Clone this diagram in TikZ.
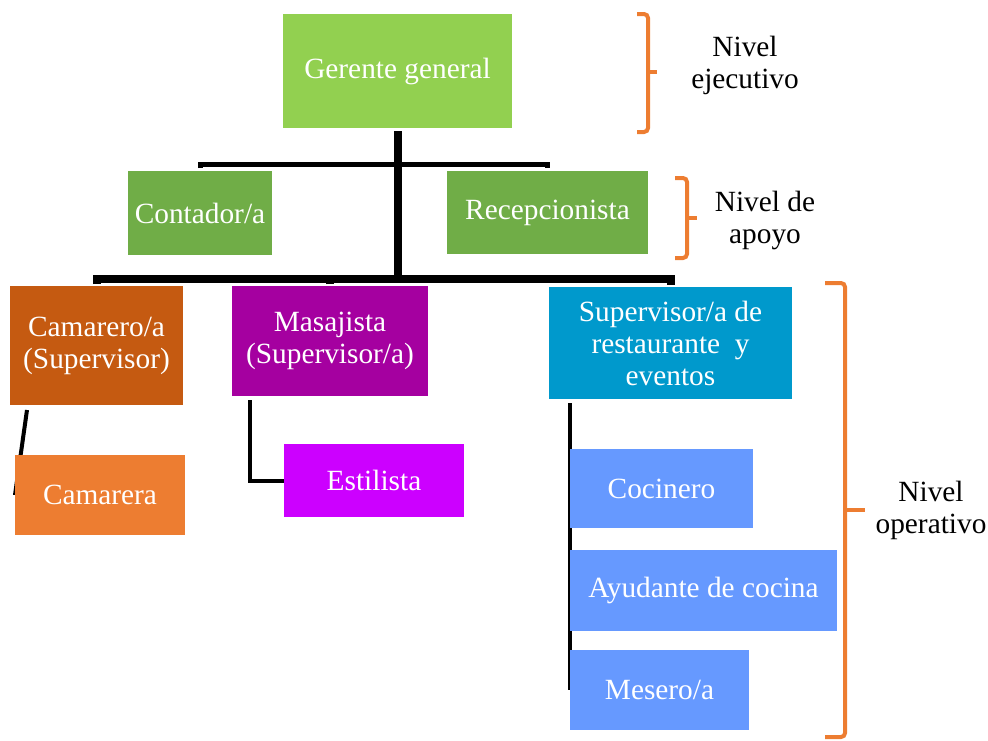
\documentclass[tikz,border=0pt]{standalone}
\usepackage{fontspec}
\setmainfont{Liberation Serif}
\usepackage{tikz}
\usetikzlibrary{backgrounds}
\definecolor{gerentegreen}{HTML}{92D050}
\definecolor{apoyogreen}{HTML}{70AD47}
\definecolor{camareroorange}{HTML}{C55A11}
\definecolor{camareraorange}{HTML}{ED7D31}
\definecolor{masajistapurple}{HTML}{A500A0}
\definecolor{estilistapink}{HTML}{CC00FF}
\definecolor{supervblue}{HTML}{0099CC}
\definecolor{cocinablue}{HTML}{6699FF}
\definecolor{braceorange}{HTML}{ED7D31}

\begin{document}
\begin{tikzpicture}[x=0.75pt,y=-0.75pt,
  box/.style={rectangle,inner sep=2pt,outer sep=0pt,align=center,text=white,font=\fontsize{22}{24}\selectfont},
  lbl/.style={align=center,font=\fontsize{22}{24}\selectfont},
  bus/.style={line width=3.75pt},
  trunk/.style={line width=6pt},
  link/.style={line width=3pt},
  brace/.style={draw=braceorange,line width=3pt,rounded corners=3pt}]
\useasboundingbox (0,0) rectangle (988,740);
\node[box,fill=gerentegreen,minimum width=171.75pt,minimum height=85.5pt] (gerente) at (397.5,71) {Gerente general};
\node[box,fill=apoyogreen,minimum width=108pt,minimum height=63pt] (contador) at (200,213) {Contador/a};
\node[box,fill=apoyogreen,minimum width=150.75pt,minimum height=62.25pt] (recep) at (547.5,212.5) {Recepcionista};
\node[box,fill=camareroorange,minimum width=129.75pt,minimum height=89.25pt] (camarero) at (96.5,345.5) {Camarero/a\\(Supervisor)};
\node[box,fill=masajistapurple,minimum width=147pt,minimum height=82.5pt] (masajista) at (330,341) {Masajista\\(Supervisor/a)};
\node[box,fill=supervblue,minimum width=182.25pt,minimum height=84pt] (superv) at (670.5,343) {Supervisor/a de\\restaurante \ y\\eventos};
\node[box,fill=camareraorange,minimum width=127.5pt,minimum height=60pt] (camarera) at (100,495) {Camarera};
\node[box,fill=estilistapink,minimum width=135pt,minimum height=54.75pt] (estilista) at (374,480.5) {Estilista};
\node[box,fill=cocinablue,minimum width=137.25pt,minimum height=59.25pt] (cocinero) at (661.5,488.5) {Cocinero};
\node[box,fill=cocinablue,minimum width=200.25pt,minimum height=60.75pt] (ayudante) at (703.5,590.5) {Ayudante de cocina};
\node[box,fill=cocinablue,minimum width=134.25pt,minimum height=60pt] (mesero) at (659.5,690) {Mesero/a};
\coordinate (busA) at (397,164);
\coordinate (busB) at (397,279);
\coordinate (servtop) at ([shift={(21,4)}]superv.south west);
\begin{pgfonlayer}{background}
\draw[trunk] ([shift={(0,3)}]gerente.south) -- (gerente.south |- busB);
\draw[bus] ([shift={(0,-3)}]contador.north) |- (busA) -| ([shift={(0,-3)}]recep.north);
\draw[trunk] ([shift={(0,-2)}]camarero.north) |- (busB) -| ([shift={(0,-2)}]superv.north);
\draw[trunk] ([shift={(0,-2)}]masajista.north) -- (masajista.north |- busB);
\draw[link] ([shift={(17,5)}]camarero.south west) -- (camarera.west);
\draw[link] ([shift={(18,4)}]masajista.south west) |- (estilista.west);
\draw[link] (servtop) -- (servtop |- mesero.west);
\end{pgfonlayer}
\draw[brace] (637,14) -- (648,14) -- (648,132) -- (637,132);
\draw[brace] (648,72) -- (657,72);
\draw[brace] (675,178) -- (687,178) -- (687,258) -- (675,258);
\draw[brace] (687,218) -- (697,218);
\draw[brace] (825,283) -- (845,283) -- (845,737) -- (825,737);
\draw[brace] (845,510) -- (865,510);
\node[lbl] (ejecutivo) at (745,65) {Nivel\\ejecutivo};
\node[lbl] (apoyo) at (765,220) {Nivel de\\apoyo};
\node[lbl] (operativo) at (931,510) {Nivel\\operativo};
\end{tikzpicture}
\end{document}
